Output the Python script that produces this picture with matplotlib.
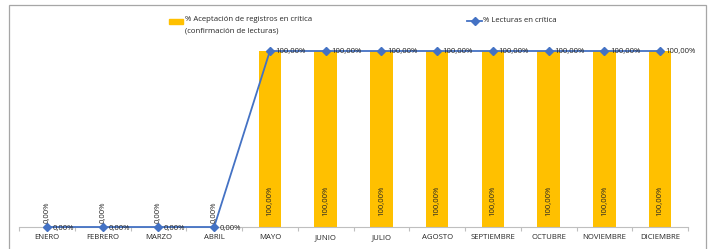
import matplotlib.pyplot as plt
import numpy as np
from matplotlib.patches import Rectangle
from matplotlib.lines import Line2D

months = ["ENERO", "FEBRERO", "MARZO", "ABRIL", "MAYO", "JUNIO", "JULIO",
          "AGOSTO", "SEPTIEMBRE", "OCTUBRE", "NOVIEMBRE", "DICIEMBRE"]
aceptacion = [0, 0, 0, 0, 100, 100, 100, 100, 100, 100, 100, 100]
lecturas = [0, 0, 0, 0, 100, 100, 100, 100, 100, 100, 100, 100]
label_bar = "% Aceptación de registros en crítica\n(confirmación de lecturas)"
label_line = "% Lecturas en crítica"

bar_color = "#FFC000"
line_color = "#4472C4"
fs = 5.6
plt.rcParams["font.family"] = ["Open Sans", "DejaVu Sans"]

W, H = 711, 249
fig = plt.figure(figsize=(W / 100, H / 100), dpi=100)

# outer chart frame
fig.patches.append(Rectangle((9 / W, -0.1), 697 / W, 1.1 - 5 / H,
                             transform=fig.transFigure, fill=False,
                             edgecolor="#A6A6A6", linewidth=0.9))

# axes: x 19..688 px, y 0 at 227 px, 100 at 51 px
ax = fig.add_axes([19 / W, 1 - 227 / H, (688 - 19) / W, (227 - 51) / H])
x = np.arange(len(months))
ax.set_xlim(-0.5, len(months) - 0.5)
ax.set_ylim(0, 100)

ax.bar(x, aceptacion, width=0.4, color=bar_color, zorder=2, clip_on=False)
ax.plot(x, lecturas, color=line_color, linewidth=1.3, marker="D",
        markersize=4, zorder=3, clip_on=False)

for s in ["top", "right", "left"]:
    ax.spines[s].set_visible(False)
ax.spines["bottom"].set_color("#BFBFBF")
ax.spines["bottom"].set_linewidth(0.8)
ax.set_yticks([])
ax.set_xticks(x)
ax.set_xticklabels(months, fontsize=fs, color="#262626")
ax.tick_params(axis="x", length=0, pad=5)
ax.set_xticks(np.arange(-0.5, len(months), 1), minor=True)
ax.tick_params(axis="x", which="minor", length=3, color="#BFBFBF", width=0.8)

def fmt(v):
    return f"{v:.2f}".replace(".", ",") + "%"

for xi, v in zip(x, aceptacion):
    if v > 0:
        ax.text(xi, 15, fmt(v), rotation=90, ha="center", va="center",
                fontsize=fs, color="#262626", zorder=4)
    else:
        ax.text(xi, 2, fmt(v), rotation=90, ha="center", va="bottom",
                fontsize=fs, color="#262626", zorder=4)

for xi, v in zip(x, lecturas):
    ax.annotate(fmt(v), (xi, v), xytext=(4, -0.5 if v else -1.2),
                textcoords="offset points", ha="left", va="center",
                fontsize=fs, color="#262626", zorder=4)

# legend (drawn in figure pixel coordinates)
def fx(px):
    return px / W

def fy(py):
    return 1 - py / H

fig.patches.append(Rectangle((fx(169), fy(24.5)), 14 / W, 5 / H,
                             transform=fig.transFigure, color=bar_color))
fig.text(fx(185), fy(16), label_bar, fontsize=fs, color="#262626",
         ha="left", va="top", linespacing=2.0)
fig.lines.append(Line2D([fx(467), fx(482)], [fy(21), fy(21)],
                        transform=fig.transFigure, color=line_color,
                        linewidth=1.3))
fig.lines.append(Line2D([fx(474.5)], [fy(21)], transform=fig.transFigure,
                        color=line_color, marker="D", markersize=4))
fig.text(fx(483), fy(21), label_line, fontsize=fs, color="#262626",
         ha="left", va="center")

fig.savefig("out.png", dpi=100)
